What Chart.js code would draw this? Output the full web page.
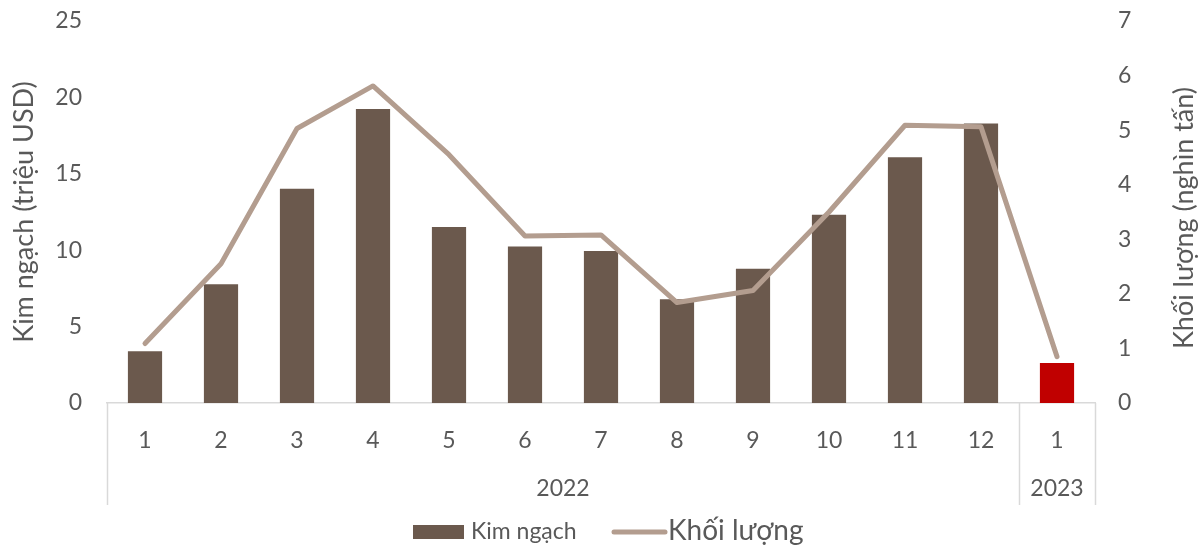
<!DOCTYPE html>
<html>
<head>
<meta charset="utf-8">
<script src="https://cdn.jsdelivr.net/npm/chart.js@4/dist/chart.umd.min.js"></script>
<style>
  html, body { margin: 0; padding: 0; background: #ffffff; }
  #wrap { width: 1198px; height: 545px; position: relative; }
</style>
</head>
<body>
<div id="wrap"><canvas id="c" width="1198" height="545"></canvas></div>
<script>
// Monthly export value (million USD) and volume (thousand tonnes)
const months = ['1', '2', '3', '4', '5', '6', '7', '8', '9', '10', '11', '12', '1'];
const monthYears = ['2022', '2022', '2022', '2022', '2022', '2022', '2022', '2022', '2022', '2022', '2022', '2022', '2023'];
const kimNgach = [3.38, 7.77, 14.02, 19.24, 11.52, 10.25, 9.95, 6.79, 8.79, 12.32, 16.08, 18.3, 2.62];
const khoiLuong = [1.09, 2.55, 5.03, 5.81, 4.55, 3.06, 3.08, 1.84, 2.06, 3.5, 5.09, 5.06, 0.85];
const leftTicks = [0, 5, 10, 15, 20, 25];
const rightTicks = [0, 1, 2, 3, 4, 5, 6, 7];

const BAR = '#6B594D';
const BAR_LATEST = '#C00000';
const LINE = '#B39D8F';
const TEXT = '#595959';
const RULE = '#D9D9D9';
const FONT = 'Lato, "Open Sans", sans-serif';

const barColors = monthYears.map(y => (y === '2023' ? BAR_LATEST : BAR));

// Year row under the month labels, with group dividers
const yearGroups = {
  id: 'yearGroups',
  afterDraw(chart) {
    const x = chart.scales.x;
    const ctx = chart.ctx;
    const top = x.top;
    const bottom = x.top + 102;
    const half = (x.getPixelForValue(1) - x.getPixelForValue(0)) / 2;
    ctx.save();
    ctx.strokeStyle = RULE;
    ctx.lineWidth = 1.5;
    const groups = [];
    monthYears.forEach((y, i) => {
      const g = groups[groups.length - 1];
      if (g && g.year === y) g.end = i; else groups.push({ year: y, start: i, end: i });
    });
    const edges = [x.left];
    groups.forEach(g => edges.push(x.getPixelForValue(g.end) + half));
    edges.forEach(px => {
      ctx.beginPath();
      ctx.moveTo(Math.round(px) + 0.5, top);
      ctx.lineTo(Math.round(px) + 0.5, bottom);
      ctx.stroke();
    });
    ctx.fillStyle = TEXT;
    ctx.font = '23px ' + FONT;
    ctx.textAlign = 'center';
    ctx.textBaseline = 'middle';
    groups.forEach(g => {
      const cx = (x.getPixelForValue(g.start) + x.getPixelForValue(g.end)) / 2;
      ctx.fillText(g.year, cx, 489);
    });
    ctx.restore();
  }
};

// Right-hand axis title (reads bottom to top) and legend
const extras = {
  id: 'extras',
  afterDraw(chart) {
    const ctx = chart.ctx;
    const area = chart.chartArea;
    ctx.save();
    ctx.fillStyle = TEXT;
    ctx.font = '27px ' + FONT;
    ctx.textAlign = 'center';
    ctx.textBaseline = 'middle';
    ctx.translate(1184, (area.top + area.bottom) / 2 + 6);
    ctx.rotate(-Math.PI / 2);
    ctx.fillText('Khối lượng (nghìn tấn)', 0, 0);
    ctx.restore();

    ctx.save();
    ctx.fillStyle = BAR;
    ctx.fillRect(413, 525, 51, 14);
    ctx.fillStyle = TEXT;
    ctx.textBaseline = 'middle';
    ctx.textAlign = 'left';
    ctx.font = '23px ' + FONT;
    ctx.fillText(chart.data.datasets[1].label, 471, 532);
    ctx.strokeStyle = LINE;
    ctx.lineWidth = 5;
    ctx.lineCap = 'round';
    ctx.beginPath();
    ctx.moveTo(614, 532);
    ctx.lineTo(665, 532);
    ctx.stroke();
    ctx.font = '28px ' + FONT;
    ctx.fillText(chart.data.datasets[0].label, 668, 531);
    ctx.restore();
  }
};

// keep the plot top fixed regardless of tick padding
function fitVertical(width) {
  return s => { s.width = width; s.paddingTop = 21; s.paddingBottom = 0; };
}

new Chart(document.getElementById('c'), {
  type: 'bar',
  data: {
    labels: months,
    datasets: [
      {
        type: 'line',
        label: 'Khối lượng',
        data: khoiLuong,
        yAxisID: 'y1',
        borderColor: LINE,
        borderWidth: 5,
        borderCapStyle: 'round',
        borderJoinStyle: 'round',
        pointRadius: 0,
        tension: 0,
        order: 0
      },
      {
        type: 'bar',
        label: 'Kim ngạch',
        data: kimNgach,
        yAxisID: 'y',
        backgroundColor: barColors,
        barPercentage: 0.45,
        categoryPercentage: 1,
        order: 1
      }
    ]
  },
  options: {
    responsive: false,
    animation: false,
    layout: { padding: { top: 0, bottom: 40, left: 0, right: 0 } },
    plugins: {
      legend: { display: false },
      tooltip: { enabled: false }
    },
    scales: {
      x: {
        grid: { display: false, drawTicks: false },
        border: { display: true, color: RULE, width: 1.5 },
        ticks: { color: TEXT, font: { family: FONT, size: 23 }, padding: 24, maxRotation: 0, autoSkip: false },
        afterFit(s) { s.height = 102; }
      },
      y: {
        position: 'left',
        min: 0, max: 25,
        afterBuildTicks(s) { s.ticks = leftTicks.map(v => ({ value: v })); },
        grid: { display: false, drawTicks: false },
        border: { display: false },
        ticks: { color: TEXT, font: { family: FONT, size: 23 }, padding: 25 },
        title: { display: true, text: 'Kim ngạch (triệu USD)', color: TEXT, font: { family: FONT, size: 27 }, padding: { top: 8, bottom: 0 } },
        afterFit: fitVertical(107)
      },
      y1: {
        position: 'right',
        min: 0, max: 7,
        afterBuildTicks(s) { s.ticks = rightTicks.map(v => ({ value: v })); },
        grid: { display: false, drawTicks: false },
        border: { display: false },
        ticks: { color: TEXT, font: { family: FONT, size: 23 }, padding: 23 },
        afterFit: fitVertical(103)
      }
    }
  },
  plugins: [yearGroups, extras]
});
</script>
</body>
</html>
